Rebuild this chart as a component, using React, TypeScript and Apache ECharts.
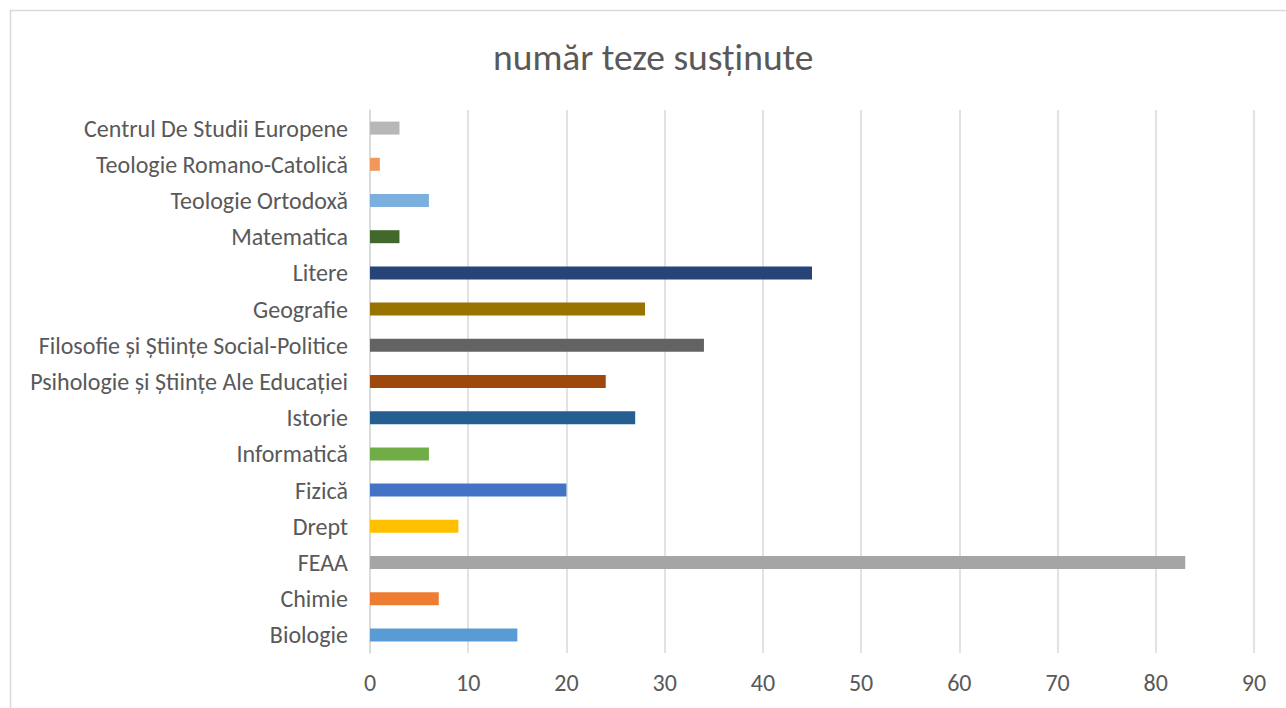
import React, { useEffect, useRef } from "react";
import * as echarts from "echarts";

const categories = [
  "Biologie",
  "Chimie",
  "FEAA",
  "Drept",
  "Fizică",
  "Informatică",
  "Istorie",
  "Psihologie și Științe Ale Educației",
  "Filosofie și Științe Social-Politice",
  "Geografie",
  "Litere",
  "Matematica",
  "Teologie Ortodoxă",
  "Teologie Romano-Catolică",
  "Centrul De Studii Europene",
];
const values = [15, 7, 83, 9, 20, 6, 27, 24, 34, 28, 45, 3, 6, 1, 3];
const colors = [
  "#5B9BD5", "#ED7D31", "#A5A5A5", "#FFC000", "#4472C4", "#70AD47", "#255E91",
  "#9E480E", "#636363", "#997300", "#264478", "#43682B", "#7CAFDD", "#F1975A", "#B7B7B7",
];
const title = "număr teze susținute";

export default function App() {
  const ref = useRef<HTMLDivElement>(null);
  useEffect(() => {
    const chart = echarts.init(ref.current!, null, { renderer: "svg" });
    const font = "Carlito, 'Open Sans', 'Noto Sans', sans-serif";
    chart.setOption({
      animation: false,
      backgroundColor: "#ffffff",
      title: {
        text: title,
        left: 488,
        top: 33,
        textStyle: { fontFamily: font, fontSize: 37.5, fontWeight: "normal", color: "#595959" },
      },
      graphic: [
        {
          type: "rect",
          shape: { x: 10.5, y: 10.5, width: 1290, height: 710 },
          style: { fill: "none", stroke: "#D9D9D9", lineWidth: 1.5 },
          silent: true,
        },
      ],
      grid: { left: 370, right: 32, top: 110, bottom: 55, containLabel: false },
      xAxis: {
        type: "value",
        min: 0,
        max: 90,
        interval: 10,
        axisLine: { show: false },
        axisTick: { show: false },
        axisLabel: { fontFamily: font, fontSize: 24, color: "#595959", margin: 17 },
        splitLine: { lineStyle: { color: "#D9D9D9", width: 1.5 } },
      },
      yAxis: {
        type: "category",
        data: categories,
        axisLine: { show: true, lineStyle: { color: "#D9D9D9", width: 1.5 } },
        axisTick: { show: false },
        axisLabel: { fontFamily: font, fontSize: 24, color: "#595959", margin: 22 },
      },
      series: [
        {
          type: "bar",
          barWidth: 13,
          data: values.map((v, i) => ({ value: v, itemStyle: { color: colors[i] } })),
        },
      ],
    });
    return () => chart.dispose();
  }, []);
  return (
    <div
      ref={ref}
      style={{ position: "absolute", left: 0, top: 0, width: 1286, height: 708 }}
    />
  );
}
